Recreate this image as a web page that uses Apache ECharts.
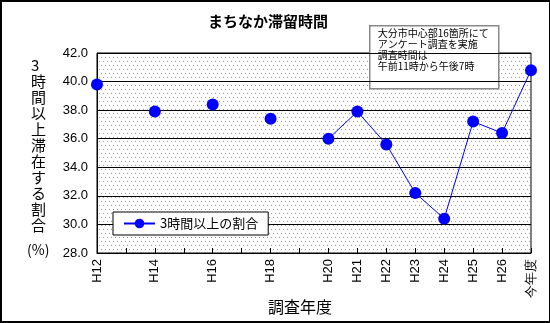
<!DOCTYPE html>
<html><head><meta charset="utf-8">
<script src="https://cdn.jsdelivr.net/npm/echarts@6/dist/echarts.min.js"></script>
<style>html,body{margin:0;padding:0;background:#fff}
#w{position:relative;width:550px;height:323px}
#c{width:550px;height:323px}
#b{position:absolute;left:0;top:0;width:550px;height:323px;box-sizing:border-box;border:2px solid #000;border-right-width:1px;pointer-events:none}</style>
</head><body><div id="w"><div id="c"></div><div id="b"></div></div>
<script>
const categories = ['H12','H13','H14','H15','H16','H17','H18','H19','H20','H21','H22','H23','H24','H25','H26','今年度'];
const shownLabels = ['H12','H14','H16','H18','H20','H21','H22','H23','H24','H25','H26','今年度'];
const values = [39.8,null,37.9,null,38.4,null,37.4,null,36.0,37.9,35.6,32.2,30.4,37.2,36.4,40.8];
const yTicks = {min:28, max:42, interval:2};
const seriesName = '3時間以上の割合';
const xAxisTitle = '調査年度';
const noteLines = ['大分市中心部16箇所にて','アンケート調査を実施','調査時間は','午前11時から午後7時'];

const tile = document.createElement('canvas');
tile.width = 4; tile.height = 8;
const tc = tile.getContext('2d');
tc.fillStyle = '#fff'; tc.fillRect(0,0,4,8);
tc.fillStyle = '#9a9a9a'; tc.fillRect(1,1,1,1); tc.fillRect(3,5,1,1);

const jp = '"Noto Sans CJK JP", sans-serif';
const num = '"Liberation Sans", Arial, sans-serif';
const chart = echarts.init(document.getElementById('c'), null, {renderer:'canvas'});
chart.setOption({
  animation:false,
  backgroundColor:'#fff',
  title:{text:'まちなか滞留時間', left:263, top:9, textAlign:'center',
    textStyle:{fontFamily:jp, fontSize:15, fontWeight:'bold', color:'#000'}},
  grid:{left:97, right:19, top:53, bottom:70, containLabel:false, outerBoundsMode:'none',
    show:true, borderColor:'#000', borderWidth:1,
    backgroundColor:{image:tile, repeat:'repeat'}},
  legend:{left:113, top:212, orient:'horizontal', backgroundColor:'#fff', borderColor:'#000', borderWidth:1,
    padding:[5,10,5,10], itemWidth:31, itemHeight:12, itemGap:3,
    textStyle:{fontFamily:jp, fontSize:13, color:'#000'},
    data:[{name:seriesName}]},
  xAxis:{type:'category', data:categories, boundaryGap:false,
    axisLine:{lineStyle:{color:'#000', width:1}},
    axisTick:{inside:true, length:5, interval:0, lineStyle:{color:'#000'}},
    axisLabel:{interval:0, rotate:90, margin:6, fontFamily:num, fontSize:13, color:'#000',
      formatter:v=> shownLabels.indexOf(v)>=0 ? v : ''},
    splitLine:{show:false}},
  yAxis:{type:'value', min:yTicks.min, max:yTicks.max, interval:yTicks.interval,
    axisLine:{show:true, lineStyle:{color:'#000'}}, axisTick:{show:false},
    axisLabel:{fontFamily:num, fontSize:13, color:'#000', margin:9, formatter:v=>v.toFixed(1)},
    splitLine:{show:true, lineStyle:{color:'#000', width:1}}},
  series:[{name:seriesName, type:'line', data:values, connectNulls:false,
    symbol:'circle', symbolSize:12, showAllSymbol:true,
    itemStyle:{color:'#0000ff'}, lineStyle:{color:'#0000ff', width:1}}],
  graphic:[
    {type:'text', left:31, top:57, style:{text:'3\n時\n間\n以\n上\n滞\n在\nす\nる\n割\n合', fontFamily:jp, fontSize:15, lineHeight:16, fill:'#000', align:'center'}},
    {type:'text', left:27, top:243, style:{text:'(%)', fontFamily:jp, fontSize:14, fill:'#000'}},
    {type:'text', left:268, top:299, style:{text:xAxisTitle, fontFamily:jp, fontSize:16, fill:'#000'}},
    {type:'group', left:369, top:25, children:[
      {type:'rect', shape:{x:0,y:0,width:129,height:63}, style:{fill:'#fff', stroke:'#888', lineWidth:1.5}},
      {type:'text', x:8, y:2, style:{text:noteLines.join('\n'), fontFamily:jp, fontSize:10, lineHeight:11, fill:'#000'}}
    ]}
  ]
});
</script></body></html>
